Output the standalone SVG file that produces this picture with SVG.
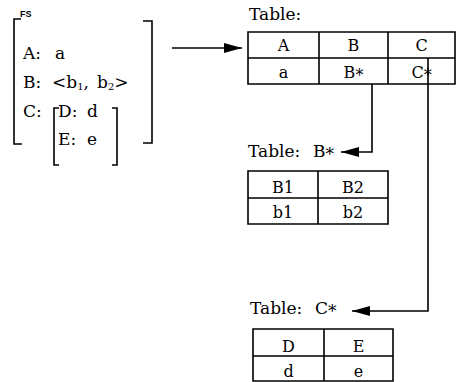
<svg xmlns="http://www.w3.org/2000/svg" width="457" height="382" viewBox="0 0 457 382">
<style>
text{font-family:"DejaVu Serif","Liberation Serif",serif;font-size:17px;fill:#000}
.c{text-anchor:middle;font-size:16px}
.b{fill:none;stroke:#000;stroke-width:1.6}
.t{fill:none;stroke:#000;stroke-width:1.6}
.sub{font-size:10px}
.fs{font-family:"Liberation Sans",Arial,sans-serif;font-size:9px;font-weight:bold}
</style>
<defs>
<marker id="ah" markerWidth="18" markerHeight="10" refX="18" refY="5" orient="auto" markerUnits="userSpaceOnUse">
<path d="M0,0 L18,5 L0,10 Z" fill="#000"/>
</marker>
</defs>
<g id="fs">
<path class="b" d="M21,19 H14 V144 H22"/>
<text class="fs" x="20" y="17">FS</text>
<path class="b" d="M143,21 H152 V143 H143"/>
<text x="23" y="59">A:<tspan x="55">a</tspan></text>
<text x="23" y="88">B:<tspan x="52">&lt;b</tspan><tspan class="sub" dy="2">1</tspan><tspan dy="-2">,</tspan><tspan x="97">b</tspan><tspan class="sub" dy="2">2</tspan><tspan dy="-2">&gt;</tspan></text>
<text x="23" y="117">C:</text>
<path class="b" d="M59,108 H54 V165 H59"/>
<path class="b" d="M112,108 H117 V165 H112"/>
<text x="58" y="117">D:<tspan x="87">d</tspan></text>
<text x="58" y="145">E:<tspan x="87">e</tspan></text>
</g>
<g id="table-main">
<text x="249" y="20">Table:</text>
<path class="t" d="M248,32 H455 V84 H248 Z M248,58 H455 M319,32 V84 M388,32 V84"/>
<text class="c" x="283.5" y="51">A</text>
<text class="c" x="353.5" y="51">B</text>
<text class="c" x="421.5" y="51">C</text>
<text class="c" x="283.5" y="78">a</text>
<text class="c" x="353.5" y="78">B<tspan dy="3">*</tspan></text>
<text class="c" x="421.5" y="78">C<tspan dy="3">*</tspan></text>
</g>
<g id="table-b">
<text x="248" y="157">Table:<tspan x="313">B</tspan><tspan dy="3">*</tspan></text>
<path class="t" d="M248,171 H388 V224 H248 Z M248,198 H388 M318,171 V224"/>
<text class="c" x="283" y="193">B1</text>
<text class="c" x="353" y="193">B2</text>
<text class="c" x="283" y="218">b1</text>
<text class="c" x="353" y="218">b2</text>
</g>
<g id="table-c">
<text x="250" y="314">Table:<tspan x="315">C</tspan><tspan dy="3">*</tspan></text>
<path class="t" d="M253,329 H393 V381 H253 Z M253,356 H393 M324,329 V381"/>
<text class="c" x="288.5" y="352">D</text>
<text class="c" x="358.5" y="352">E</text>
<text class="c" x="288.5" y="377">d</text>
<text class="c" x="358.5" y="377">e</text>
</g>
<g id="connectors" fill="none" stroke="#000" stroke-width="1.6">
<path d="M172,48 H242" marker-end="url(#ah)"/>
<path d="M372,84 V152 H341" marker-end="url(#ah)"/>
<path d="M428,58 V311 H352" marker-end="url(#ah)"/>
</g>
</svg>
